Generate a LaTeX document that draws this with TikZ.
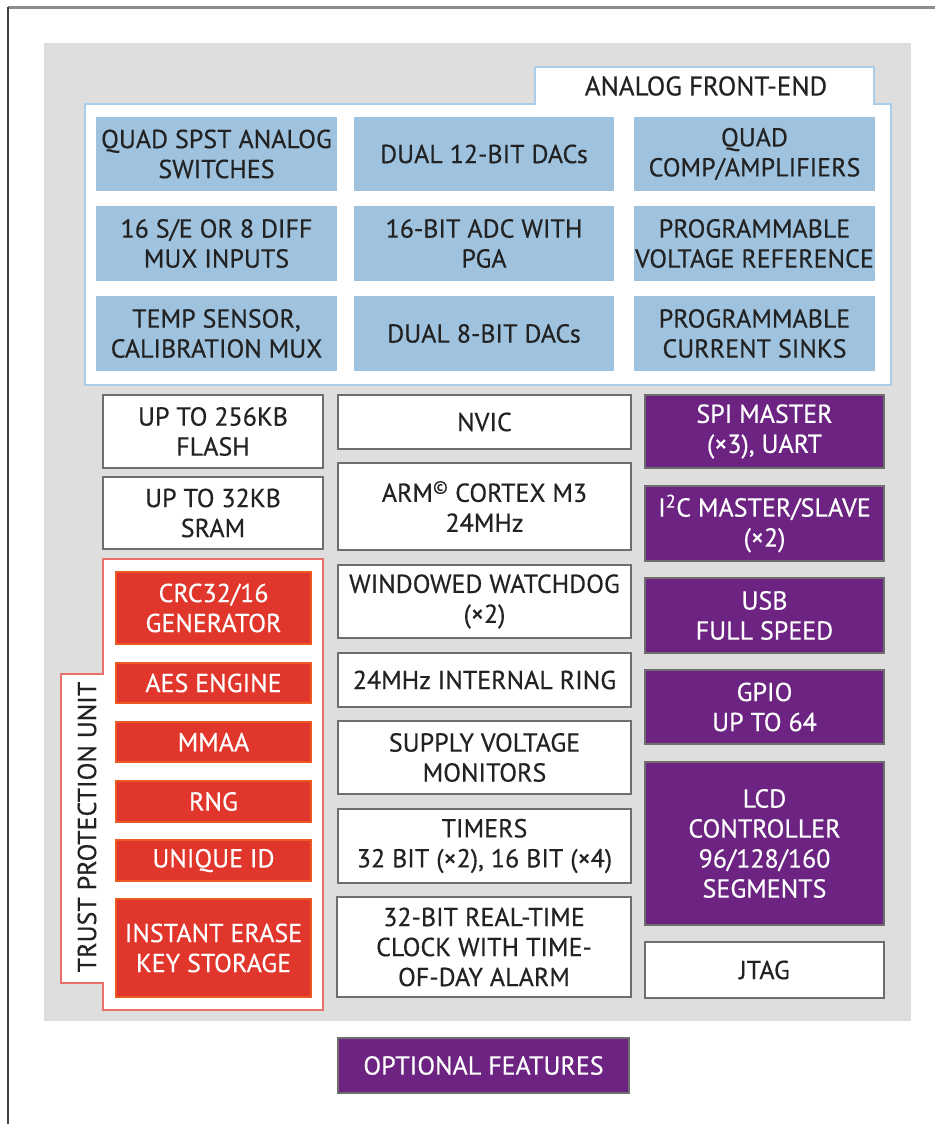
\documentclass[tikz,border=0pt]{standalone}
\usepackage{fontspec}
\setmainfont{PT Sans}
\newfontfamily\diagfont{PT Sans}[FakeBold=0.4]
\definecolor{panelgray}{HTML}{DEDEDE}
\definecolor{afeblue}{HTML}{9FC3DF}
\definecolor{afeline}{HTML}{A9CDEA}
\definecolor{boxline}{HTML}{6E6E6E}
\definecolor{redfill}{HTML}{E0362C}
\definecolor{redline}{HTML}{EC5A24}
\definecolor{tpuline}{HTML}{E8706A}
\definecolor{purp}{HTML}{6C2382}
\definecolor{txt}{HTML}{222222}
\newcommand\bx[7]{\node[#1, minimum width={(#5)-(#3)}, minimum height={(#6)-(#4)}] (#2) at ({((#3)+(#5))/2},{((#4)+(#6))/2}) {#7};}
\tikzset{
  base/.style={inner sep=0pt, align=center, font=\diagfont\fontsize{26}{30}\selectfont},
  afecell/.style={base, fill=afeblue, text=txt},
  wbox/.style={base, fill=white, draw=boxline, line width=2.5pt, text=txt},
  rbox/.style={base, fill=redfill, draw=redline, line width=1.2pt, text=white},
  pbox/.style={base, fill=purp, draw=boxline, line width=2.5pt, text=white},
}
\begin{document}
\begin{tikzpicture}[x=1pt,y=-1pt]
\useasboundingbox (0,0) rectangle (935,1124);
% outer frame
\draw[color=gray!90, line width=3pt] (8,7.5) -- (935,7.5);
\draw[color=black!75, line width=1.5pt] (8,7.5) -- (8,1124);
% gray panel
\fill[panelgray] (44,43) rectangle (911,1021);
% analog front-end outline
\draw[afeline, fill=white, line width=1.5pt] (85,104) -- (535,104) -- (535,67) -- (874,67) -- (874,104) -- (891,104) -- (891,385) -- (85,385) -- cycle;
\node[base, font=\diagfont\fontsize{27}{30}\selectfont, text=txt] (afe) at (706,86) {ANALOG FRONT-END};
% AFE cells
\bx{afecell}{a11}{96}{117}{337}{191}{QUAD SPST ANALOG\\SWITCHES}
\bx{afecell}{a12}{354}{117}{614}{191}{DUAL 12-BIT DACs}
\bx{afecell}{a13}{634}{117}{875}{191}{QUAD\\COMP/AMPLIFIERS}
\bx{afecell}{a21}{96}{206}{337}{281}{16 S/E OR 8 DIFF\\MUX INPUTS}
\bx{afecell}{a22}{354}{206}{614}{281}{16-BIT ADC WITH\\PGA}
\bx{afecell}{a23}{634}{206}{875}{281}{PROGRAMMABLE\\VOLTAGE REFERENCE}
\bx{afecell}{a31}{96}{296}{337}{371}{TEMP SENSOR,\\CALIBRATION MUX}
\bx{afecell}{a32}{354}{296}{614}{371}{DUAL 8-BIT DACs}
\bx{afecell}{a33}{634}{296}{875}{371}{PROGRAMMABLE\\CURRENT SINKS}
% left column
\bx{wbox}{flash}{103}{395}{323}{468}{UP TO 256KB\\FLASH}
\bx{wbox}{sram}{103}{477}{323}{549}{UP TO 32KB\\SRAM}
% trust protection unit outline
\draw[tpuline, fill=white, line width=1.5pt] (103,559) -- (323,559) -- (323,1010) -- (103,1010) -- (103,983) -- (61,983) -- (61,674) -- (103,674) -- cycle;
\node[base, rotate=90, text=txt] (tpu) at (87,827) {TRUST PROTECTION UNIT};
\bx{rbox}{crc}{116}{572}{311}{644}{CRC32/16\\GENERATOR}
\bx{rbox}{aes}{116}{663}{311}{703}{AES ENGINE}
\bx{rbox}{mmaa}{116}{722}{311}{762}{MMAA}
\bx{rbox}{rng}{116}{781}{311}{822}{RNG}
\bx{rbox}{uid}{116}{840}{311}{881}{UNIQUE ID}
\bx{rbox}{ies}{116}{899}{311}{997}{INSTANT ERASE\\KEY STORAGE}
% middle column
\bx{wbox}{nvic}{338}{395}{631}{449}{NVIC}
\bx{wbox}{arm}{338}{463}{631}{550}{ARM\textsuperscript{\textcopyright} CORTEX M3\\24MHz}
\bx{wbox}{wdog}{338}{565}{631}{638}{WINDOWED WATCHDOG\\(×2)}
\bx{wbox}{ring}{338}{653}{631}{707}{24MHz INTERNAL RING}
\bx{wbox}{svm}{338}{721}{631}{794}{SUPPLY VOLTAGE\\MONITORS}
\bx{wbox}{tim}{338}{809}{631}{883}{TIMERS\\32 BIT (×2), 16 BIT (×4)}
\bx{wbox}{rtc}{337}{897}{631}{997}{32-BIT REAL-TIME\\CLOCK WITH TIME-\\OF-DAY ALARM}
% right column
\bx{pbox}{spi}{645}{395}{884}{468}{SPI MASTER\\(×3), UART}
\bx{pbox}{i2c}{645}{486}{884}{561}{I\textsuperscript{2}C MASTER/SLAVE\\(×2)}
\bx{pbox}{usb}{645}{578}{884}{653}{USB\\FULL SPEED}
\bx{pbox}{gpio}{645}{670}{884}{744}{GPIO\\UP TO 64}
\bx{pbox}{lcd}{645}{762}{884}{925}{LCD\\CONTROLLER\\96/128/160\\SEGMENTS}
\bx{wbox}{jtag}{645}{942}{884}{998}{JTAG}
% legend
\bx{pbox}{opt}{338}{1038}{629}{1093}{OPTIONAL FEATURES}
\end{tikzpicture}
\end{document}
